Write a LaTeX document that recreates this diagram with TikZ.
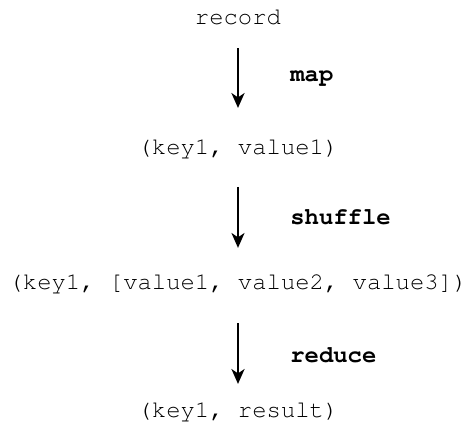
\documentclass[tikz,border=0pt]{standalone}
\usepackage[T1]{fontenc}
\usepackage{courier}
\usepackage{tikz}
\usetikzlibrary{arrows.meta,positioning}

\begin{document}
\begin{tikzpicture}[
    x=0.02cm,y=-0.02cm,
    kv/.style={inner sep=0,anchor=base,text height=9pt,text depth=3pt,font=\fontsize{13.6}{16}\ttfamily},
    stage/.style={inner sep=0,anchor=base west,font=\fontsize{13.6}{16}\ttfamily\bfseries},
    arrow/.style={-{Stealth[length=8.5pt,width=7.5pt,inset=2.5pt]},thick}
]
    \useasboundingbox (0,0) rectangle (471,429);

    % Data at each step
    \node[kv] (record) at (238,25) {record};
    \node[kv] (pair) at (238,155) {(key1, value1)};
    \node[kv] (grouped) at (238,290) {(key1, [value1, value2, value3])};
    \node[kv] (result) at (238,418) {(key1, result)};

    % Steps
    \draw[arrow,shorten <=10pt,shorten >=17.6pt] (record) -- (pair);
    \draw[arrow,shorten <=15pt,shorten >=14.8pt] (pair) -- (grouped);
    \draw[arrow,shorten <=15.7pt,shorten >=10.2pt] (grouped) -- (result);

    % Step names
    \node[stage] (map) at (290,82) {map};
    \node[stage] (shuffle) at (290,225) {shuffle};
    \node[stage] (reduce) at (290,363) {reduce};
\end{tikzpicture}
\end{document}
